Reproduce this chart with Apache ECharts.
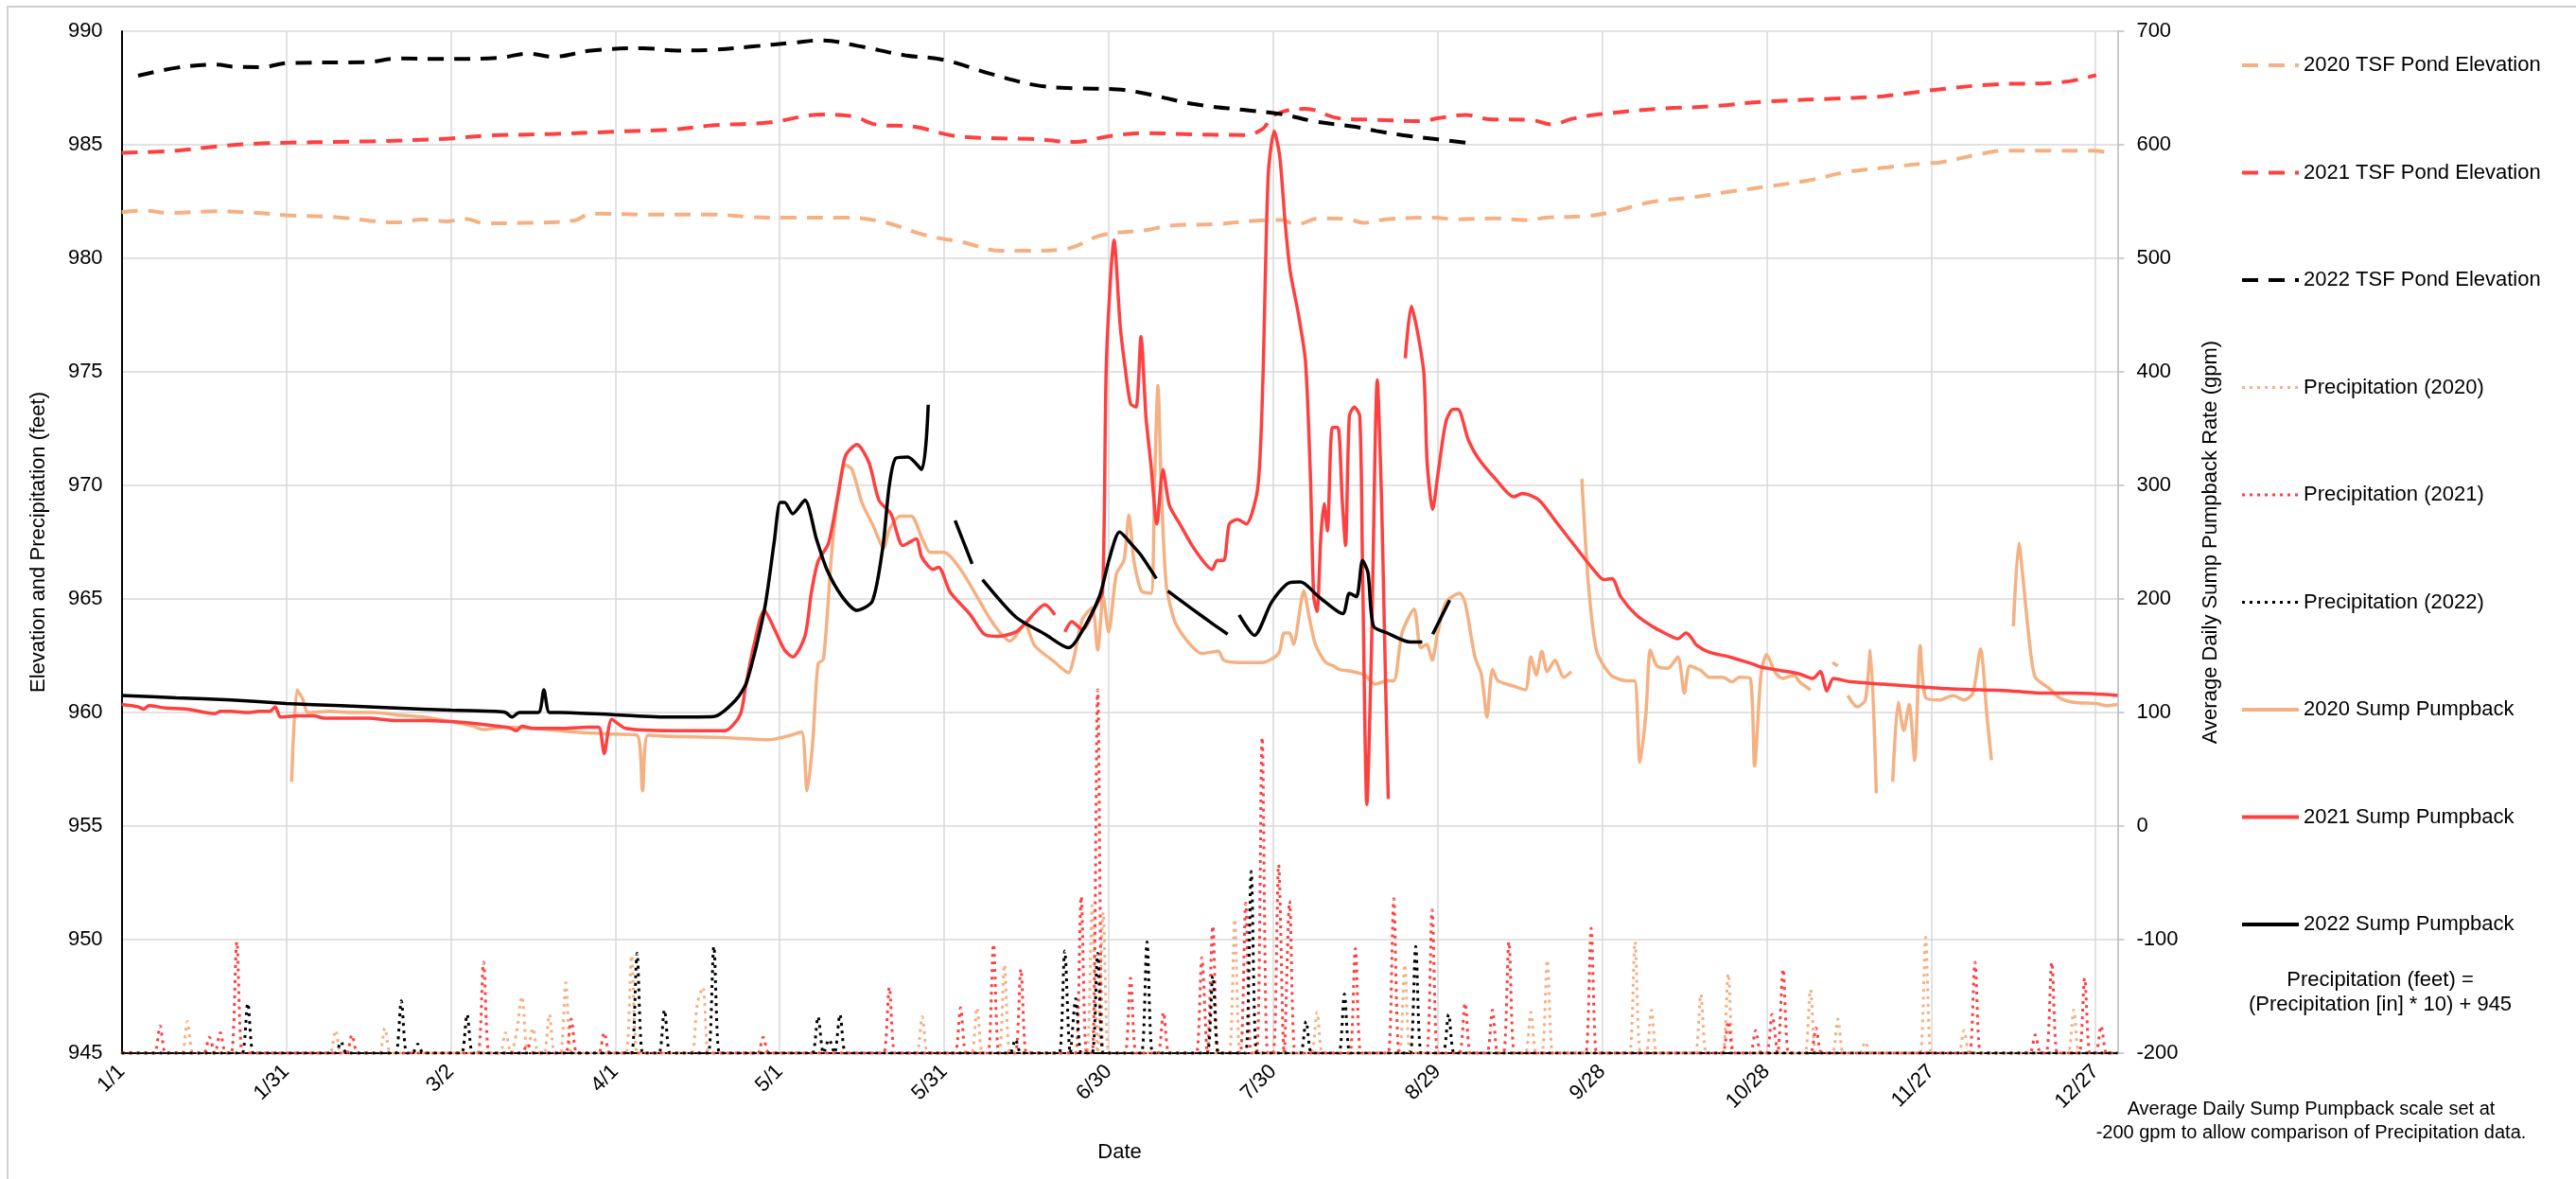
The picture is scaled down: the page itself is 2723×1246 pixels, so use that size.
<!DOCTYPE html>
<html>
<head>
<meta charset="utf-8">
<script src="https://cdn.jsdelivr.net/npm/echarts@6/dist/echarts.min.js"></script>
<style>
html,body{margin:0;padding:0;background:#fff;}
#chart{width:2723px;height:1246px;}
</style>
</head>
<body>
<div id="chart"></div>
<script>
// ---- Data (x = day of year, 0 = 1/1) ----
const dateTicks = ['1/1','1/31','3/2','4/1','5/1','5/31','6/30','7/30','8/29','9/28','10/28','11/27','12/27'];

const seriesNames = ['2020 TSF Pond Elevation','2021 TSF Pond Elevation','2022 TSF Pond Elevation',
  'Precipitation (2020)','Precipitation (2021)','Precipitation (2022)',
  '2020 Sump Pumpback','2021 Sump Pumpback','2022 Sump Pumpback'];

// TSF pond elevation (feet)
const tsf2020 = [[0,982.03],[4,982.1],[8.6,982.0],[17,982.07],[24,982.01],[30,981.9],[38.6,981.82],[45.6,981.65],[50,981.58],[54.8,981.71],[59.4,981.63],[62.5,981.74],[66.4,981.54],[74,981.56],[82.6,981.67],[85.6,981.97],[95,981.93],[107.7,981.93],[114.7,981.82],[120.9,981.79],[132.3,981.79],[139.3,981.58],[146.4,981.03],[153.4,980.71],[160.5,980.33],[164.9,980.33],[171.9,980.4],[178.9,981.03],[186.8,981.24],[191.2,981.44],[200,981.51],[206.2,981.65],[211.5,981.69],[214.1,981.49],[218.5,981.76],[223.8,981.72],[226.4,981.56],[230.7,981.72],[239.1,981.79],[243.7,981.72],[250.3,981.76],[256.8,981.68],[259.6,981.79],[267.1,981.86],[271.7,982.04],[279.2,982.49],[286.7,982.69],[294.2,982.97],[300.7,983.18],[308.2,983.46],[314.8,983.81],[322.2,984.01],[328.8,984.18],[331.6,984.22],[339.1,984.6],[343.7,984.74],[350.3,984.74],[359.6,984.74],[362,984.67]];
const tsf2021 = [[0,984.65],[10,984.74],[17,984.92],[25.6,985.06],[44.8,985.15],[58.7,985.26],[66.4,985.4],[78,985.47],[89.5,985.57],[100.7,985.68],[107.7,985.85],[118.2,985.99],[127.9,986.33],[133.2,986.26],[137.6,985.89],[144.6,985.79],[151.7,985.4],[158.7,985.29],[165.7,985.26],[173.6,985.13],[180.6,985.4],[186.8,985.51],[195.6,985.46],[204.5,985.43],[208,985.68],[210.2,986.31],[215.9,986.58],[222,986.17],[228.8,986.1],[237.2,986.04],[240,986.17],[245.1,986.31],[249.3,986.13],[256.8,986.1],[261,985.89],[264.3,986.13],[269.9,986.35],[280.2,986.58],[289.5,986.69],[299.8,986.9],[312.9,987.04],[321.3,987.14],[329.7,987.39],[340.9,987.65],[354,987.76],[360.1,988.07]];
const tsf2022 = [[3,988.04],[10,988.39],[17,988.53],[21,988.43],[25.6,988.42],[30.2,988.6],[44.8,988.64],[50.2,988.8],[58.7,988.78],[68.7,988.83],[74.1,989.01],[78.7,988.88],[85.6,989.15],[95,989.25],[101.5,989.15],[107.7,989.18],[114.7,989.32],[122.6,989.5],[127.5,989.6],[134.1,989.36],[142.9,988.94],[149.9,988.74],[158.7,988.11],[166.6,987.63],[173.6,987.49],[181.6,987.44],[186.8,987.25],[195.6,986.79],[204.5,986.54],[211.5,986.35],[217.6,986.03],[225,985.79],[228.8,985.61],[233.5,985.43],[240,985.24],[246.1,985.06]];

// Precipitation events: [day, inches]; all other days read as 0
const rain2020 = [[12,0.14],[39,0.10],[48,0.11],[70,0.09],[72,0.09],[73,0.25],[75,0.11],[78,0.17],[81,0.31],[93,0.43],[105,0.22],[106,0.29],[146,0.16],[156,0.20],[161,0.39],[177,0.65],[179,0.62],[203,0.59],[218,0.18],[234,0.39],[257,0.18],[260,0.41],[276,0.49],[279,0.19],[288,0.26],[293,0.35],[308,0.28],[313,0.15],[318,0.05],[329,0.51],[336,0.10],[356,0.19]];
const rain2021 = [[7,0.12],[16,0.07],[18,0.09],[21,0.49],[42,0.08],[66,0.40],[74,0.04],[82,0.15],[88,0.09],[117,0.07],[140,0.29],[153,0.20],[159,0.48],[164,0.37],[175,0.69],[178,1.60],[184,0.33],[190,0.18],[197,0.42],[199,0.56],[205,0.66],[208,1.39],[211,0.83],[213,0.67],[225,0.46],[232,0.68],[239,0.63],[245,0.22],[250,0.19],[253,0.49],[268,0.55],[293,0.14],[298,0.10],[301,0.17],[303,0.37],[309,0.11],[338,0.40],[349,0.08],[352,0.40],[358,0.33],[361,0.12]];
const rain2022 = [[23,0.22],[40,0.05],[51,0.23],[54,0.04],[63,0.17],[94,0.44],[99,0.19],[108,0.47],[127,0.16],[129,0.06],[131,0.17],[163,0.06],[172,0.45],[174,0.24],[178,0.44],[187,0.49],[199,0.34],[206,0.80],[216,0.14],[223,0.26],[236,0.47],[242,0.17]];

// Sump pumpback (gpm); null = gap in record
const sump2020 = [[31,39],[32,120],[33,112],[34,100],[38,101],[42,100],[46,100],[50,98],[55,96],[60,92],[64,88],[66,85],[70,87],[75,86],[80,84],[85,82],[90,81],[94,80],[95,31],[96,80],[100,79],[110,78],[118,76],[122,80],[124,83],[125,31],[126,72],[127,143],[128,147],[129.5,241],[130.7,293],[132,318],[133.2,314],[135,285],[137,265],[139,245],[140,261],[142,273],[144,273],[146,253],[147.5,241],[150,241],[153,226],[156,202],[159,178],[162,163],[163,167],[164.7,178],[166.5,159],[170,145],[172.7,135],[173.6,147],[175.2,182],[177,192],[178,155],[179,202],[180,171],[181.4,222],[182.8,234],[183.7,274],[184.6,234],[186,207],[187.7,205],[188.4,308],[189,388],[189.6,298],[190.5,213],[192,181],[194,165],[197,152],[200,154],[201,146],[204,144],[208,144],[211,152],[212,170],[213,170],[213.7,160],[215.6,207],[216.5,186],[217.7,160],[219.6,144],[221,141],[222,138],[224.5,136],[226.7,133],[228.6,125],[230.7,128],[232,128],[233.5,170],[235.7,191],[236.9,157],[238,160],[239,146],[240,170],[241.5,197],[244,205],[245,197],[246.8,149],[248,133],[249,96],[250,138],[251,128],[254,123],[256,120],[257,149],[258,133],[259,154],[260,136],[261.4,146],[263,131],[264.4,136],null,[266.3,306],[267.5,213],[269,154],[271.6,133],[274.4,128],[275.9,128],[276.9,56],[278,100],[278.8,155],[280,141],[282,139],[283.8,149],[285,117],[286,141],[288,137],[289.6,131],[292,131],[293.7,127],[295,131],[297,130],[297.8,53],[299,135],[300,151],[301.6,135],[303,130],[305,133],[306,127],[308,120],null,[312,144],[313,141],null,[314.8,115],[316.5,105],[318,111],[318.9,155],[320,29],null,[323,39],[324,109],[325,84],[326,107],[327,58],[328,159],[329,113],[331.5,111],[334,115],[336,111],[337.6,117],[339,156],[340.2,96],[341,58],null,[345,176],[346,249],[347,206],[348,159],[349,131],[351.6,121],[353.4,113],[356,109],[360,108],[362,106],[364,107]];
const sump2021 = [[0,107],[3,105],[4,103],[5,106],[8,104],[12,103],[17,99],[18,101],[20,101],[23,100],[25,101],[27,101],[28,105],[29,96],[32,97],[35,97],[37,95],[45,95],[50,93],[55,93],[60,92],[65,90],[70,87],[71,86],[72,84],[73,88],[75,86],[80,86],[85,87],[87,87],[88,64],[89.4,94],[91.9,86],[100.5,84],[110,84],[112.8,98],[113.8,123],[115.3,159],[117.2,190],[119,174],[120.9,155],[122.4,149],[124.6,167],[125.8,206],[127,233],[128.9,249],[130.7,293],[132,326],[134.1,336],[136.3,320],[138.1,287],[140.3,275],[142.5,247],[144.9,253],[145.9,237],[148,226],[149,228],[151.1,206],[154.8,186],[157.3,169],[159.8,167],[163.1,171],[164.7,178],[168.4,195],[170.2,186],null,[172,171],[173.3,180],[175.2,173],[177.7,194],[178.9,206],[179.6,410],[181,516],[182.1,441],[183,404],[184,372],[185,369],[185.9,431],[186.8,361],[187.7,319],[188.8,266],[189.9,314],[191.1,282],[193,266],[195.5,245],[198.9,226],[199.8,234],[201,234],[202,266],[203.5,270],[205.1,266],[207.2,298],[208.1,388],[209.1,573],[210.2,612],[211.2,590],[212.2,531],[213.1,489],[214.6,451],[215.9,409],[216.8,308],[217.4,202],[218,189],[218.7,255],[219.3,284],[219.9,260],[220.8,351],[221.8,351],[222.6,287],[223.2,247],[223.9,361],[224.8,369],[225.8,361],[226.3,229],[227.1,19],[227.9,149],[229,393],[229.8,282],[230.4,149],[231,24],null,[234.1,412],[235.2,458],[236.3,436],[237.5,398],[238.1,319],[239.1,279],[240,308],[241.5,356],[242.8,367],[243.7,367],[245.6,340],[247.4,324],[250.5,306],[253.9,290],[255.5,293],[258.5,287],[261.6,268],[265.3,245],[268.4,226],[270.3,217],[271.8,218],[273.4,202],[276.2,186],[279.1,176],[281.8,169],[283.8,165],[285.3,170],[286.1,167],[287.3,159],[289.6,153],[293.2,149],[297.3,143],[299,140],[302.5,137],[306,134],[308.4,130],[309.8,136],[311,119],[312.2,130],[315.4,127],[321.2,125],[327.1,123],[332.9,121],[338.8,120],[344.6,119],[350.5,117],[356.3,117],[364,115]];
const sump2022 = [[0,115],[10,113],[20,111],[30,108],[40,106],[50,104],[60,102],[68,101],[70,100],[71.2,96],[72.5,100],[76,100],[77,120],[78,100],[80,100],[90,98],[100,96],[108,96.5],[112,111],[114,127],[117.2,190],[119,250],[120.1,285],[120.9,285],[122.4,275],[124.6,287],[126.7,253],[128.6,226],[131.4,202],[134.1,190],[136.9,198],[138.8,245],[140,300],[141.2,324],[143.4,325],[145.9,314],[147.1,371],null,[152,269],[155.1,231],null,[157,217],[163.1,184],[168.4,169],[172.7,157],[174.6,167],[178.3,202],[180.1,235],[182,259],[184.4,247],[186,238],[188.7,218],null,[190.8,207],[195,192],[199,178],[201.7,169],null,[203.8,186],[206.6,168],[209.7,197],[212.8,214],[215,215],[218.3,202],[222.7,187],[223.9,205],[225.2,202],[226.3,234],[227.3,223],[228.3,176],[230.8,170],[235,162],[237.2,162],null,[239.1,169],[242.2,199]];

// ---- Build ----
const ORANGE = '#F4B183', RED = '#FF4040', BLACK = '#000000';
const FONT = "'Liberation Sans', Arial, sans-serif";

function dailyPrecip(events) {
  const m = new Map(events);
  const out = [];
  for (let d = 0; d <= 364; d++) out.push([d, 945 + 10 * (m.get(d) || 0)]);
  return out;
}

function tsfSeries(name, data, color) {
  return { name, type: 'line', yAxisIndex: 0, data, showSymbol: false, symbol: 'none', smooth: 0.4,
    lineStyle: { color, width: 4, type: [17, 11] }, itemStyle: { color }, z: 2 };
}
function rainSeries(name, data, color) {
  return { name, type: 'line', yAxisIndex: 0, data: dailyPrecip(data), showSymbol: false, symbol: 'none', smooth: 0.3,
    lineStyle: { color, width: 3, type: [3, 5] }, itemStyle: { color }, z: 3 };
}
function sumpSeries(name, data, color) {
  return { name, type: 'line', yAxisIndex: 1, data, showSymbol: false, symbol: 'none', smooth: 0.25, connectNulls: false,
    lineStyle: { color, width: 3.5 }, itemStyle: { color }, z: 4 };
}

const legendWidths = [4, 4, 4, 3, 3, 3, 4, 4, 4];

const chart = echarts.init(document.getElementById('chart'), null, { renderer: 'canvas' });
chart.setOption({
  animation: false,
  backgroundColor: '#ffffff',
  textStyle: { fontFamily: FONT, color: '#000' },
  grid: { left: 128.6, right: 484.6, top: 33, bottom: 133, containLabel: false },
  legend: {
    orient: 'vertical', left: 2363, top: 51,
    itemWidth: 60, itemHeight: 14, itemGap: 87.5,
    itemStyle: { opacity: 0 },
    textStyle: { fontFamily: FONT, fontSize: 22, color: '#000', lineHeight: 26 },
    data: seriesNames.map((name, i) => ({ name, lineStyle: { width: legendWidths[i] } }))
  },
  xAxis: {
    type: 'value', min: 0, max: 364, interval: 30,
    name: 'Date', nameLocation: 'middle', nameGap: 94,
    nameTextStyle: { fontFamily: FONT, fontSize: 22, color: '#000' },
    axisLine: { show: true, onZero: false, lineStyle: { color: '#000', width: 2 } },
    axisTick: { show: false },
    axisLabel: { rotate: 45, margin: 16, fontSize: 22, color: '#000', fontFamily: FONT,
      formatter: v => (v % 30 === 0 && dateTicks[v / 30]) ? dateTicks[v / 30] : '' },
    splitLine: { show: true, lineStyle: { color: '#d9d9d9', width: 1.5 } }
  },
  yAxis: [
    { type: 'value', position: 'left', min: 945, max: 990, interval: 5,
      name: 'Elevation and Precipitation (feet)', nameLocation: 'middle', nameGap: 77, nameRotate: 90,
      nameTextStyle: { fontFamily: FONT, fontSize: 22, color: '#000' },
      axisLine: { show: true, lineStyle: { color: '#000', width: 2 } },
      axisTick: { show: false },
      axisLabel: { fontSize: 22, color: '#000', margin: 20, fontFamily: FONT },
      splitLine: { show: true, lineStyle: { color: '#d9d9d9', width: 1.5 } } },
    { type: 'value', position: 'right', min: -200, max: 700, interval: 100,
      name: 'Average Daily Sump Pumpback Rate (gpm)', nameLocation: 'middle', nameGap: 88, nameRotate: 90,
      nameTextStyle: { fontFamily: FONT, fontSize: 22, color: '#000' },
      axisLine: { show: true, lineStyle: { color: '#bfbfbf', width: 1.5 } },
      axisTick: { show: true, length: 7, lineStyle: { color: '#bfbfbf', width: 1.5 } },
      axisLabel: { fontSize: 22, color: '#000', margin: 20, fontFamily: FONT },
      splitLine: { show: false } }
  ],
  graphic: [
    { type: 'rect', shape: { x: 8, y: 7, width: 2800, height: 1300 }, style: { fill: 'none', stroke: '#d0d0d0', lineWidth: 2 }, silent: true, z: -10 },
    { type: 'text', x: 2516, y: 1036, style: { text: 'Precipitation (feet) =', font: "22px 'Liberation Sans', Arial", fill: '#000', align: 'center', verticalAlign: 'middle' } },
    { type: 'text', x: 2516, y: 1062, style: { text: '(Precipitation [in] * 10) + 945', font: "22px 'Liberation Sans', Arial", fill: '#000', align: 'center', verticalAlign: 'middle' } },
    { type: 'text', x: 2443, y: 1172, style: { text: 'Average Daily Sump Pumpback scale set at', font: "20px 'Liberation Sans', Arial", fill: '#000', align: 'center', verticalAlign: 'middle' } },
    { type: 'text', x: 2443, y: 1197, style: { text: '-200 gpm to allow comparison of Precipitation data.', font: "20px 'Liberation Sans', Arial", fill: '#000', align: 'center', verticalAlign: 'middle' } }
  ],
  series: [
    tsfSeries(seriesNames[0], tsf2020, ORANGE),
    tsfSeries(seriesNames[1], tsf2021, RED),
    tsfSeries(seriesNames[2], tsf2022, BLACK),
    rainSeries(seriesNames[3], rain2020, ORANGE),
    rainSeries(seriesNames[4], rain2021, RED),
    rainSeries(seriesNames[5], rain2022, BLACK),
    sumpSeries(seriesNames[6], sump2020, ORANGE),
    sumpSeries(seriesNames[7], sump2021, RED),
    sumpSeries(seriesNames[8], sump2022, BLACK)
  ]
});
</script>
</body>
</html>
